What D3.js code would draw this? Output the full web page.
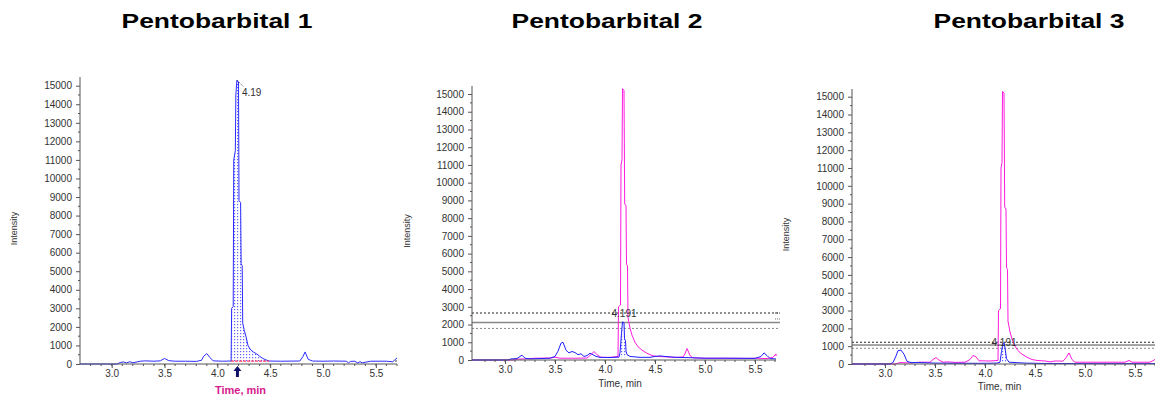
<!DOCTYPE html>
<html>
<head>
<meta charset="utf-8">
<script src="https://cdn.jsdelivr.net/npm/d3@7"></script>
<style>
  body { margin: 0; background: #fff; }
  svg { display: block; font-family: Arial, "Liberation Sans", sans-serif; }
</style>
</head>
<body>
<svg id="canvas" width="1155" height="396"></svg>
<script>
// ---- data: [time (min), intensity (cps)] ----
let titles = ['Pentobarbital 1', 'Pentobarbital 2', 'Pentobarbital 3']
let yTicks = [0, 1000, 2000, 3000, 4000, 5000, 6000, 7000, 8000, 9000, 10000, 11000, 12000, 13000, 14000, 15000]
let xTicks = [3.0, 3.5, 4.0, 4.5, 5.0, 5.5]
let peakLabels = ['4.19', '4.191', '4.191']

let p1Blue = [[2.70,0],[3.05,0],[3.08,80],[3.11,110],[3.14,60],[3.17,120],[3.20,70],[3.23,100],[3.27,150],[3.32,170],
  [3.40,150],[3.46,170],[3.50,300],[3.54,180],[3.60,150],[3.70,150],[3.80,140],[3.85,200],[3.87,420],[3.90,560],
  [3.93,350],[3.96,170],[4.05,150],[4.13,160],[4.135,3000],[4.15,3100],[4.155,11000],[4.17,11500],[4.175,14500],
  [4.185,15300],[4.20,15200],[4.205,8800],[4.22,8700],[4.225,5400],[4.235,5300],[4.24,2200],[4.255,1800],[4.27,1500],
  [4.29,1000],[4.31,800],[4.34,650],[4.37,550],[4.40,420],[4.43,300],[4.46,220],[4.49,160],[4.60,150],[4.78,160],
  [4.81,400],[4.83,650],[4.86,250],[4.90,160],[5.00,150],[5.10,160],[5.22,150],[5.24,60],[5.26,140],[5.30,150],
  [5.33,50],[5.35,130],[5.37,60],[5.45,150],[5.60,150],[5.66,120],[5.70,330]]

let p2Magenta = [[2.67,0],[3.08,0],[3.12,50],[3.20,60],[3.30,100],[3.45,110],[3.50,160],[3.55,100],[3.70,100],
  [3.82,110],[3.86,300],[3.89,480],[3.92,300],[3.96,150],[4.05,150],[4.13,200],[4.135,3000],[4.155,3100],
  [4.16,11000],[4.17,11300],[4.175,15300],[4.19,15200],[4.197,8800],[4.21,8700],[4.215,5400],[4.225,5300],
  [4.23,2400],[4.25,1800],[4.27,1400],[4.30,1000],[4.33,750],[4.37,550],[4.42,380],[4.47,250],[4.52,200],
  [4.60,180],[4.70,150],[4.78,170],[4.80,350],[4.82,650],[4.85,250],[4.88,120],[5.00,100],[5.20,100],[5.40,90],
  [5.50,100],[5.62,80],[5.68,150],[5.71,350]]

let p2Blue = [[2.67,0],[3.03,0],[3.06,60],[3.12,80],[3.15,200],[3.17,270],[3.20,100],[3.25,60],[3.35,80],[3.45,100],
  [3.50,200],[3.53,500],[3.56,950],[3.58,1000],[3.61,550],[3.64,400],[3.67,480],[3.70,420],[3.73,300],[3.76,350],
  [3.79,200],[3.82,250],[3.85,380],[3.88,300],[3.91,200],[3.95,150],[4.05,140],[4.14,160],[4.15,400],[4.165,1500],
  [4.175,2150],[4.19,2100],[4.195,1200],[4.205,1100],[4.21,500],[4.22,300],[4.25,200],[4.35,150],[4.45,150],
  [4.50,200],[4.55,230],[4.60,200],[4.70,150],[4.85,130],[5.00,100],[5.30,100],[5.50,90],[5.56,200],[5.59,400],
  [5.62,250],[5.65,80],[5.71,60]]

let p3Magenta = [[2.67,0],[3.10,0],[3.15,80],[3.25,60],[3.35,100],[3.45,100],[3.48,250],[3.51,360],[3.54,220],
  [3.58,100],[3.62,120],[3.70,90],[3.80,100],[3.85,250],[3.88,480],[3.91,400],[3.94,180],[4.05,170],[4.13,200],
  [4.135,3000],[4.155,3100],[4.16,11000],[4.17,11300],[4.175,15300],[4.19,15200],[4.197,8800],[4.21,8700],
  [4.215,5400],[4.225,5300],[4.23,2400],[4.25,1800],[4.27,1400],[4.30,1000],[4.33,750],[4.37,550],[4.42,380],
  [4.47,250],[4.52,200],[4.60,170],[4.65,120],[4.70,170],[4.78,160],[4.81,350],[4.84,620],[4.87,250],[4.90,100],
  [5.10,100],[5.40,100],[5.44,200],[5.47,100],[5.65,100],[5.70,250]]

let p3Blue = [[2.67,0],[3.05,0],[3.08,80],[3.11,450],[3.13,750],[3.16,780],[3.19,550],[3.22,150],[3.26,80],
  [3.35,80],[3.50,50],[3.70,40],[4.00,40],[4.12,50],[4.15,100],[4.165,700],[4.18,1150],[4.19,1200],[4.20,900],
  [4.215,300],[4.24,100],[4.30,80],[4.40,50],[4.60,30],[5.00,20],[5.70,20]]

// integration windows [start, end, baseline]
let p1Integration = [4.13, 4.49, 150]
let p2Integration = [4.15, 4.22, 150]
let p3Integration = [4.16, 4.22, 50]

// threshold lines for panels 2 and 3: dotted upper, solid middle, dotted lower
let p2Thresholds = [2650, 2120, 1780]
let p3Thresholds = [1220, 1070, 880]

// ---- layout ----
let panels = [
  { title: titles[0], titleX: 217, x0: 80, x1: 397, xDom: [2.7, 5.7], yZero: 364, yTop15k: 85.7, axisTop: 77,
    traces: [{ data: p1Blue, color: '#2b2bff' }], fillData: p1Blue, integ: p1Integration, thresholds: null,
    label: peakLabels[0], labelPos: 'peak', timeBold: true, intensityX: 17, timeY: 394 },
  { title: titles[1], titleX: 607, x0: 472, x1: 776, xDom: [2.67, 5.71], yZero: 360, yTop15k: 94, axisTop: 86,
    traces: [{ data: p2Magenta, color: '#ff1adf' }, { data: p2Blue, color: '#2020ff' }], fillData: p2Blue,
    integ: p2Integration, thresholds: p2Thresholds, label: peakLabels[1], labelPos: 'line', timeBold: false,
    intensityX: 410, timeY: 387 },
  { title: titles[2], titleX: 1029, x0: 852, x1: 1155, xDom: [2.67, 5.70], yZero: 364, yTop15k: 96.7, axisTop: 89,
    traces: [{ data: p3Magenta, color: '#ff1adf' }, { data: p3Blue, color: '#2020ff' }], fillData: p3Blue,
    integ: p3Integration, thresholds: p3Thresholds, label: peakLabels[2], labelPos: 'line', timeBold: false,
    intensityX: 789, timeY: 390 }
]

let svg = d3.select('#canvas')

// dotted fill pattern for integrated peaks
let defs = svg.append('defs')
let pat = defs.append('pattern')
  .attr('id', 'dots')
  .attr('width', 3).attr('height', 3)
  .attr('patternUnits', 'userSpaceOnUse')
pat.append('rect').attr('width', 1.2).attr('height', 1.2).attr('fill', '#3a3aff')

let drawPanel = (p, i) => {
  let g = svg.append('g')

  let x = d3.scaleLinear().domain(p.xDom).range([p.x0, p.x1])
  let y = d3.scaleLinear().domain([0, 15000]).range([p.yZero, p.yTop15k])

  // title (the source lettering is wide, so stretch to its measured width)
  svg.append('text')
    .attr('x', p.titleX).attr('y', 28)
    .attr('text-anchor', 'middle')
    .attr('font-size', 21).attr('font-weight', 'bold')
    .attr('textLength', 191).attr('lengthAdjust', 'spacingAndGlyphs')
    .text(p.title)

  // integration fill
  let [s, e, base] = p.integ
  let inWin = p.fillData.filter(d => d[0] >= s && d[0] <= e)
  let area = d3.area()
    .x(d => x(d[0]))
    .y0(y(base))
    .y1(d => y(Math.max(d[1], base)))
  g.append('path')
    .datum(inWin)
    .attr('d', area)
    .attr('fill', 'url(#dots)')
    .attr('opacity', 0.8)

  // threshold lines
  if (p.thresholds) {
    let styles = [
      { stroke: '#222', dash: '2,2', w: 1.2 },
      { stroke: '#888', dash: null, w: 1.5 },
      { stroke: '#888', dash: '2,2', w: 1 }
    ]
    p.thresholds.forEach((v, k) => {
      g.append('line')
        .attr('x1', p.x0).attr('x2', Math.min(p.x1 + 4, 1155))
        .attr('y1', y(v)).attr('y2', y(v))
        .attr('stroke', styles[k].stroke)
        .attr('stroke-width', styles[k].w)
        .attr('stroke-dasharray', styles[k].dash)
    })
  }

  // traces
  let line = d3.line().x(d => x(d[0])).y(d => y(d[1]))
  p.traces.forEach(t => {
    g.append('path')
      .datum(t.data)
      .attr('d', line)
      .attr('fill', 'none')
      .attr('stroke', t.color)
      .attr('stroke-width', 1)
      .attr('stroke-linejoin', 'round')
  })

  // integration baseline (panel 1 shows it in red)
  if (i === 0) {
    g.append('line')
      .attr('x1', x(s)).attr('x2', x(e))
      .attr('y1', y(base)).attr('y2', y(base))
      .attr('stroke', '#ff3b5c').attr('stroke-width', 1.2)
      .attr('stroke-dasharray', '3,1')
    // retention time arrow
    let ax = x(4.19)
    g.append('path')
      .attr('d', `M${ax},${p.yZero + 2} l-4,5 l2.5,0 l0,6 l3,0 l0,-6 l2.5,0 z`)
      .attr('fill', '#10106a')
  }

  // peak label
  if (p.labelPos === 'peak') {
    let px = x(4.185), py = y(15300)
    g.append('line')
      .attr('x1', px).attr('y1', py)
      .attr('x2', px + 7).attr('y2', py + 7)
      .attr('stroke', '#555').attr('stroke-width', 0.8)
      .attr('stroke-dasharray', '1.5,1')
    g.append('text')
      .attr('x', px + 5).attr('y', py + 16)
      .attr('font-size', 10).attr('fill', '#333')
      .text(p.label)
  } else {
    g.append('text')
      .attr('x', x(4.19)).attr('y', y(p.thresholds[0]) + 4)
      .attr('text-anchor', 'middle')
      .attr('font-size', 10).attr('fill', '#333')
      .text(p.label)
  }

  // y axis
  let yAxis = d3.axisLeft(y).tickValues(yTicks).tickSize(4).tickFormat(d3.format('d'))
  let ya = g.append('g').attr('transform', `translate(${p.x0},0)`).call(yAxis)
  ya.select('.domain').remove()
  ya.selectAll('text').attr('font-size', 10).attr('fill', '#333').attr('font-family', 'Arial, "Liberation Sans", sans-serif').attr('dx', -1)
  ya.selectAll('line').attr('stroke', '#555')
  g.append('line')
    .attr('x1', p.x0).attr('x2', p.x0)
    .attr('y1', p.axisTop).attr('y2', p.yZero)
    .attr('stroke', '#555')
  let minorY = d3.range(500, 15500, 1000)
  g.selectAll('.minor-y-' + i)
    .data(minorY).enter().append('line')
    .attr('x1', p.x0 - 2).attr('x2', p.x0)
    .attr('y1', d => y(d)).attr('y2', d => y(d))
    .attr('stroke', '#555')

  // x axis
  let xAxis = d3.axisBottom(x).tickValues(xTicks).tickSize(4).tickPadding(2).tickFormat(d3.format('.1f'))
  let xa = g.append('g').attr('transform', `translate(0,${p.yZero})`).call(xAxis)
  xa.select('.domain').remove()
  xa.selectAll('text').attr('font-size', 10).attr('fill', '#333').attr('font-family', 'Arial, "Liberation Sans", sans-serif')
  xa.selectAll('line').attr('stroke', '#555')
  g.append('line')
    .attr('x1', p.x0).attr('x2', p.x1)
    .attr('y1', p.yZero).attr('y2', p.yZero)
    .attr('stroke', '#555')
  let minorX = d3.range(28, 58).map(v => v / 10).filter(v => v >= p.xDom[0] && v <= p.xDom[1])
  g.selectAll('.minor-x-' + i)
    .data(minorX).enter().append('line')
    .attr('x1', d => x(d)).attr('x2', d => x(d))
    .attr('y1', p.yZero).attr('y2', p.yZero + 2)
    .attr('stroke', '#555')

  // axis titles
  g.append('text')
    .attr('transform', `translate(${p.intensityX},${(p.yZero + p.axisTop) / 2 + 8}) rotate(-90)`)
    .attr('text-anchor', 'middle')
    .attr('font-size', 9).attr('fill', '#333')
    .text('Intensity')
  g.append('text')
    .attr('x', (p.x0 + p.x1) / 2 + (i === 0 ? 2 : -4))
    .attr('y', p.timeY)
    .attr('text-anchor', 'middle')
    .attr('font-size', p.timeBold ? 11 : 10)
    .attr('font-weight', p.timeBold ? 'bold' : 'normal')
    .attr('fill', p.timeBold ? '#d6198c' : '#333')
    .text('Time, min')
}

panels.forEach((p, i) => drawPanel(p, i))

// cropped legend fragments visible at the left edges of panels 2 and 3
svg.append('line').attr('x1', 395).attr('x2', 397).attr('y1', 361).attr('y2', 361).attr('stroke', '#444')
svg.append('line').attr('x1', 775).attr('x2', 781).attr('y1', 313).attr('y2', 313)
  .attr('stroke', '#444').attr('stroke-dasharray', '1,1')
svg.append('line').attr('x1', 775).attr('x2', 781).attr('y1', 319).attr('y2', 319)
  .attr('stroke', '#777').attr('stroke-dasharray', '1,1')
svg.append('line').attr('x1', 775).attr('x2', 777).attr('y1', 355).attr('y2', 355).attr('stroke', '#ff1adf')
</script>
</body>
</html>
